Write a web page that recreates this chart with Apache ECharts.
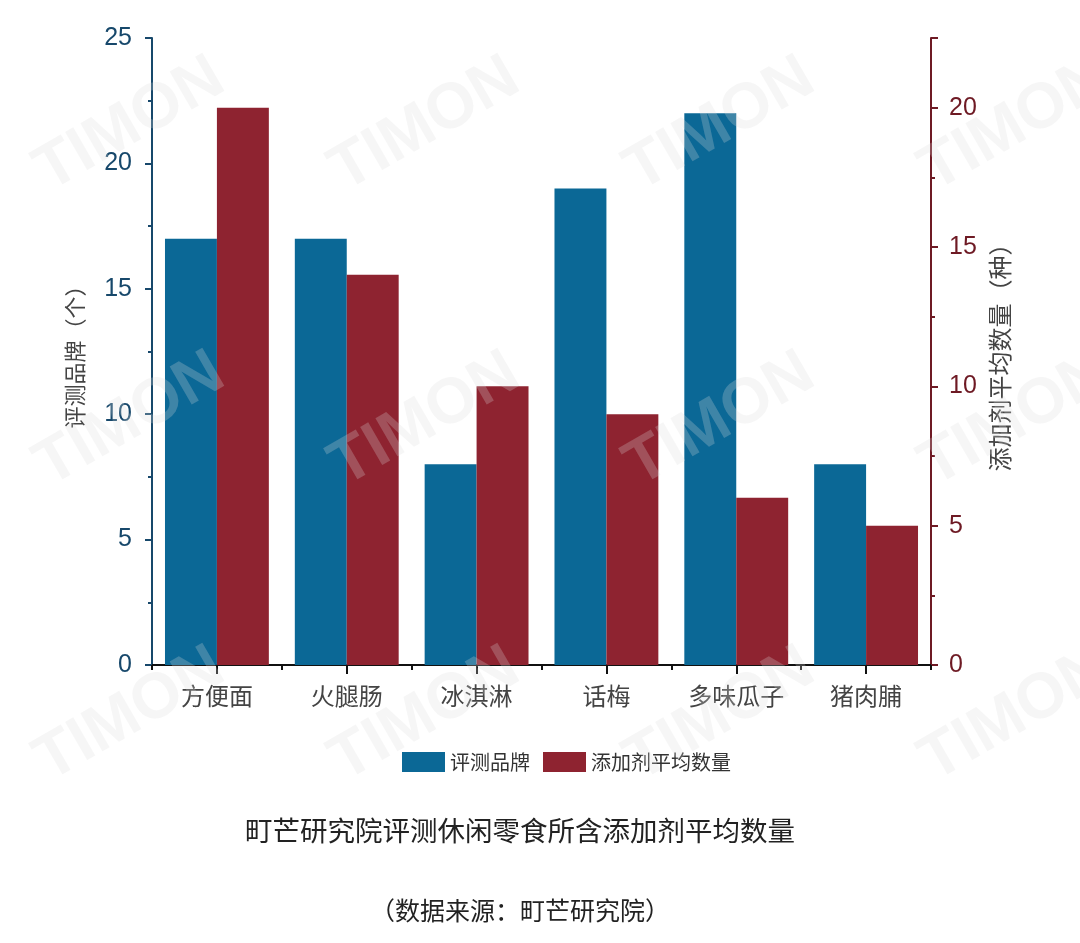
<!DOCTYPE html>
<html>
<head>
<meta charset="utf-8">
<script src="https://cdn.jsdelivr.net/npm/echarts@6/dist/echarts.min.js"></script>
<style>
  html, body { margin: 0; padding: 0; background: #fff; }
  #main { width: 1080px; height: 943px; }
</style>
</head>
<body>
<div id="main"></div>
<script>
const categories = ['方便面', '火腿肠', '冰淇淋', '话梅', '多味瓜子', '猪肉脯']
const brandCount = [17, 17, 8, 19, 22, 8]
const additiveAvg = [20, 14, 10, 9, 6, 5]
const leftTicks = { min: 0, max: 25, interval: 5 }
const rightTicks = { min: 0, max: 22.5, interval: 5 }

const blue = '#0b6896'
const red = '#8e2330'
const blueAxis = '#17486b'
const redAxis = '#6e1a24'

// faint TIMON watermark grid
const marks = []
const xs = [130, 425, 720, 1015]
const ys = [125, 420, 715]
ys.forEach(y => xs.forEach(x => {
  marks.push({
    type: 'text',
    x: x, y: y,
    rotation: Math.PI / 6,
    z: 100,
    silent: true,
    style: {
      text: 'TIMON',
      font: 'bold 64px "Liberation Sans", Arial',
      fill: 'rgba(220,220,220,0.25)',
      align: 'center',
      verticalAlign: 'middle'
    }
  })
}))

const chart = echarts.init(document.getElementById('main'))
chart.setOption({
  backgroundColor: '#fff',
  animation: false,
  grid: { left: 152, right: 149, top: 38, bottom: 278, containLabel: false },
  legend: {
    left: 397,
    top: 747,
    icon: 'rect',
    itemWidth: 43,
    itemHeight: 20,
    itemGap: 13,
    textStyle: { fontSize: 20, color: '#333', fontFamily: 'Noto Sans CJK SC' },
    data: ['评测品牌', '添加剂平均数量']
  },
  title: [
    {
      text: '町芒研究院评测休闲零食所含添加剂平均数量',
      left: 240,
      top: 812,
      textStyle: { fontSize: 27.5, fontWeight: 'normal', color: '#222', fontFamily: 'Noto Sans CJK SC' }
    },
    {
      text: '（数据来源：町芒研究院）',
      left: 365,
      top: 893,
      textStyle: { fontSize: 25, fontWeight: 'normal', color: '#222', fontFamily: 'Noto Sans CJK SC' }
    }
  ],
  xAxis: [
    {
      type: 'category',
      data: categories,
      position: 'bottom',
      axisLine: { show: true, lineStyle: { color: '#111', width: 2 } },
      axisTick: { show: true, alignWithLabel: true, length: 9, lineStyle: { color: '#111', width: 2 } },
      axisLabel: { fontSize: 24, color: '#444', margin: 19, fontFamily: 'Noto Sans CJK SC' }
    },
    {
      type: 'category',
      data: categories,
      position: 'bottom',
      axisLine: { show: false },
      axisTick: { show: true, alignWithLabel: false, length: 5, lineStyle: { color: '#111', width: 2 } },
      axisLabel: { show: false }
    }
  ],
  yAxis: [
    {
      type: 'value',
      min: leftTicks.min, max: leftTicks.max, interval: leftTicks.interval,
      position: 'left',
      name: '评测品牌（个）',
      nameLocation: 'middle',
      nameRotate: 90,
      nameGap: 66,
      nameTextStyle: { fontSize: 22, color: '#444', fontFamily: 'Noto Sans CJK SC' },
      axisLine: { show: true, lineStyle: { color: blueAxis, width: 2 } },
      axisTick: { show: true, length: 7, lineStyle: { color: blueAxis, width: 2 } },
      minorTick: { show: true, splitNumber: 2, length: 4, lineStyle: { color: blueAxis, width: 2 } },
      axisLabel: { fontSize: 25, color: blueAxis, margin: 20, fontFamily: 'Liberation Sans' },
      splitLine: { show: false }
    },
    {
      type: 'value',
      min: rightTicks.min, max: rightTicks.max, interval: rightTicks.interval,
      position: 'right',
      name: '添加剂平均数量（种）',
      nameLocation: 'middle',
      nameRotate: 90,
      nameGap: 56,
      nameTextStyle: { fontSize: 24, color: '#444', fontFamily: 'Noto Sans CJK SC' },
      axisLine: { show: true, lineStyle: { color: redAxis, width: 2 } },
      axisTick: { show: true, length: 7, lineStyle: { color: redAxis, width: 2 } },
      minorTick: { show: true, splitNumber: 2, length: 4, lineStyle: { color: redAxis, width: 2 } },
      axisLabel: { fontSize: 25, color: redAxis, margin: 18, fontFamily: 'Liberation Sans', showMaxLabel: false },
      splitLine: { show: false }
    }
  ],
  series: [
    {
      name: '评测品牌',
      type: 'bar',
      xAxisIndex: 0,
      yAxisIndex: 0,
      data: brandCount,
      barGap: '0%',
      barCategoryGap: '20%',
      itemStyle: { color: blue }
    },
    {
      name: '添加剂平均数量',
      type: 'bar',
      xAxisIndex: 0,
      yAxisIndex: 1,
      data: additiveAvg,
      barGap: '0%',
      barCategoryGap: '20%',
      itemStyle: { color: red }
    }
  ],
  graphic: marks
})
</script>
</body>
</html>
